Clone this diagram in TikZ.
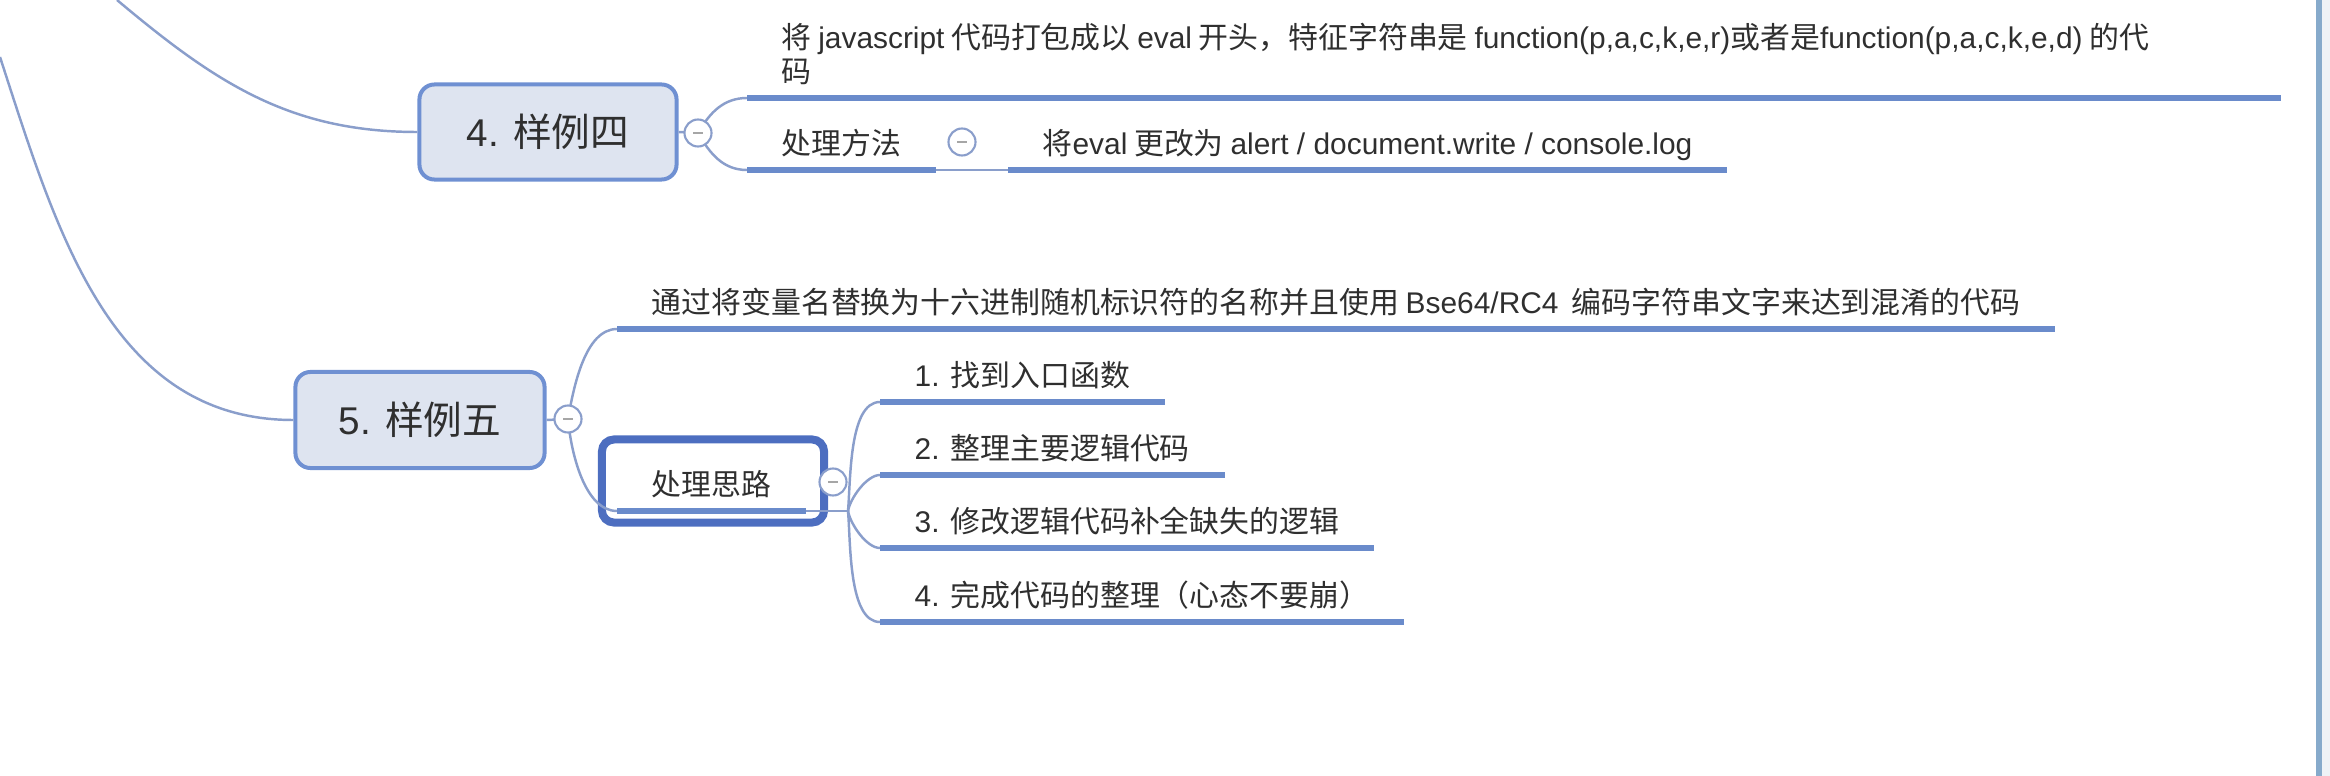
\documentclass[tikz,border=0pt]{standalone}
\usepackage{fontspec}
\setmainfont{Noto Sans CJK SC}
\newfontfamily\enfont{Liberation Sans}
\usetikzlibrary{positioning}

\definecolor{branchc}{HTML}{8A9ECB}
\definecolor{ulinec}{HTML}{6A8BCB}
\definecolor{boxfill}{HTML}{DEE4F0}
\definecolor{boxdraw}{HTML}{6F90D2}
\definecolor{selc}{HTML}{4D6EC0}
\definecolor{edgec}{HTML}{86AACB}
\definecolor{stripc}{HTML}{EEF2F6}
\definecolor{textc}{HTML}{2F2F2F}

\tikzset{
  topic/.style={anchor=south west, inner xsep=0.34cm, inner ysep=0.15cm, text depth=0pt,
                font=\fontsize{8.5pt}{9.7pt}\selectfont, text=textc},
  uline/.style={draw=ulinec, line width=0.065cm},
  branch/.style={draw=branchc, line width=0.7pt},
  mainbox/.style={draw=boxdraw, fill=boxfill, line width=0.04cm, rounded corners=0.15cm,
                  font=\fontsize{11pt}{13pt}\selectfont, text=textc},
  fold/.style={circle, draw=branchc, fill=white, line width=0.6pt, minimum size=0.27cm, inner sep=0pt,
               path picture={\draw[gray!70, line width=0.6pt]
                 ([xshift=-0.05cm]path picture bounding box.center) -- ([xshift=0.05cm]path picture bounding box.center);}},
}

\begin{document}
\begin{tikzpicture}[x=0.01cm,y=-0.01cm]
\useasboundingbox (0,0) rectangle (2330,776);
\clip (0,0) rectangle (2330,776);

% window edge
\fill[stripc] (2322,0) rectangle (2330,776);
\draw[edgec, line width=0.06cm] (2319,0) -- (2319,776);

% main topics
\node[mainbox, minimum width=2.57cm, minimum height=0.95cm] (b4) at (548,132) {{\enfont 4. }样例四};
\node[mainbox, minimum width=2.49cm, minimum height=0.96cm] (b5) at (420,420) {{\enfont 5. }样例五};

\coordinate (r4) at (117,0);
\coordinate (r5) at (0,57);

% selected topic frame
\node[draw=selc, line width=0.08cm, rounded corners=0.12cm,
      minimum width=2.22cm, minimum height=0.83cm] (sel) at (713,481) {};

% sub topics
\node[topic, align=left] (t4a) at (747,98)
  {将 {\enfont javascript} 代码打包成以 {\enfont eval} 开头，特征字符串是 {\enfont function(p,a,c,k,e,r)}或者是{\enfont function(p,a,c,k,e,d)} 的代\\码};
\coordinate (t4e) at (2281,98);
\node[topic] (t4b) at (747,170) {处理方法};
\node[topic] (t4c) at (1008,170) {将{\enfont eval} 更改为 {\enfont alert / document.write / console.log}};

\node[topic] (t5a) at (617,329) {通过将变量名替换为十六进制随机标识符的名称并且使用 {\enfont Bse64/RC4}\ \ 编码字符串文字来达到混淆的代码};
\node[topic] (t5b) at (617,511) {处理思路};

\node[topic] (i1) at (880,402) {{\enfont 1. }找到入口函数};
\node[topic] (i2) at (880,475) {{\enfont 2. }整理主要逻辑代码};
\node[topic] (i3) at (880,548) {{\enfont 3. }修改逻辑代码补全缺失的逻辑};
\node[topic] (i4) at (880,622) {{\enfont 4. }完成代码的整理（心态不要崩）};

\coordinate (j5) at (848,511);

% connectors
\draw[branch] (r4) to[out=-40,in=180] (b4.west);
\draw[branch] (r5) to[out=-72,in=180] (b5.west);

\draw[branch] (b4.east) -- (698,133) coordinate (c4p);
\draw[branch] (c4p) to[out=60,in=180] (t4a.south west);
\draw[branch] (c4p) to[out=-60,in=180] (t4b.south west);
\draw[branch] (t4b.south east) -- (t4c.south west);

\draw[branch] (b5.east) -- (568,419) coordinate (c5p);
\draw[branch] (c5p) to[out=80,in=180,looseness=0.8] (t5a.south west);
\draw[branch] (c5p) to[out=-85,in=180,looseness=0.8] (t5b.south west);

\draw[branch] (t5b.south east) -- (j5);
\draw[branch] (j5) to[out=85,in=180,looseness=0.7] (i1.south west);
\draw[branch] (j5) to[out=80,in=180,looseness=0.7] (i2.south west);
\draw[branch] (j5) to[out=-80,in=180,looseness=0.7] (i3.south west);
\draw[branch] (j5) to[out=-85,in=180,looseness=0.7] (i4.south west);

\draw[uline] (t4a.south west) -- (t4e);
\foreach \n in {t4b,t4c,t5a,t5b,i1,i2,i3,i4}
  \draw[uline] (\n.south west) -- (\n.south east);

% fold buttons
\node[fold] (c4) at (c4p) {};
\node[fold] (c41) at (962,142) {};
\node[fold] (c5) at (c5p) {};
\node[fold] (c52) at (833,482) {};
\end{tikzpicture}
\end{document}
